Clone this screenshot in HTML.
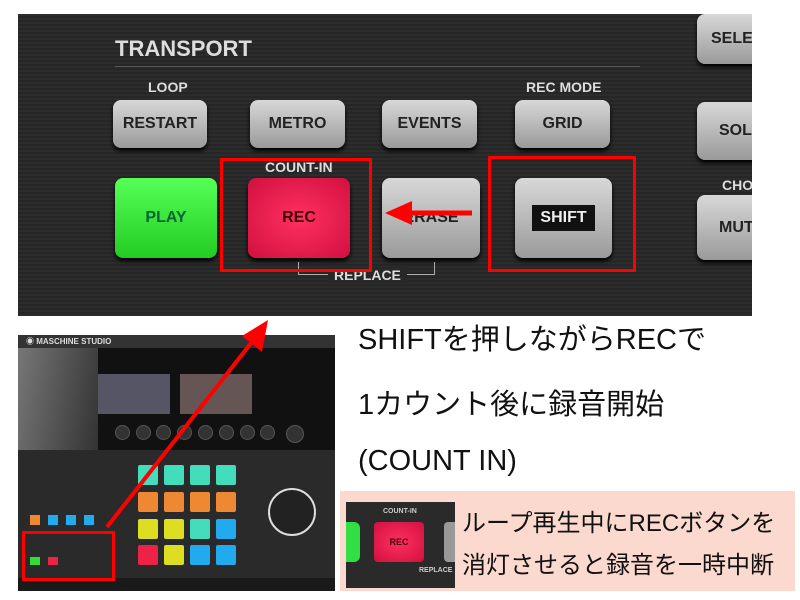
<!DOCTYPE html><html><head><meta charset="utf-8"><style>
body{margin:0;width:800px;height:600px;background:#fff;position:relative;overflow:hidden;font-family:"Liberation Sans","Noto Sans CJK JP",sans-serif}
.a{position:absolute}
.btn{position:absolute;border-radius:8px;background:linear-gradient(#d8d8d8,#9a9a9a);box-shadow:0 3px 4px #000;color:#222;font-weight:bold;font-size:16px;display:flex;align-items:center;justify-content:center;transform:scaleX(1)}
.lbl{position:absolute;color:#ddd;font-weight:bold;font-size:14px}
.t{position:absolute;color:#111;font-size:29px;white-space:nowrap}
.pad{position:absolute;width:20px;height:20px;border-radius:2px}
.k{position:absolute;width:13px;height:13px;border-radius:50%;background:#333;border:1px solid #555;top:425px}
</style></head><body>
<div class="a" style="left:18px;top:14px;width:734px;height:302px;overflow:hidden;background:repeating-linear-gradient(#2c2c2c 0 2px,#262626 2px 4px)">
<div class="lbl" style="left:97px;top:22px;font-size:22px">TRANSPORT</div>
<div class="a" style="left:97px;top:52px;width:525px;height:1px;background:#555"></div>
<div class="lbl" style="left:130px;top:65px">LOOP</div>
<div class="lbl" style="left:508px;top:65px">REC MODE</div>
<div class="lbl" style="left:247px;top:145px">COUNT-IN</div>
<div class="btn" style="left:95px;top:86px;width:94px;height:48px">RESTART</div>
<div class="btn" style="left:232px;top:86px;width:95px;height:48px">METRO</div>
<div class="btn" style="left:364px;top:86px;width:95px;height:48px">EVENTS</div>
<div class="btn" style="left:497px;top:86px;width:95px;height:48px">GRID</div>
<div class="btn" style="left:97px;top:164px;width:102px;height:80px;background:linear-gradient(#5f5,#2c2);color:#063">PLAY</div>
<div class="btn" style="left:230px;top:164px;width:102px;height:80px;background:radial-gradient(#ff3060,#d01040);color:#400">REC</div>
<div class="btn" style="left:364px;top:164px;width:98px;height:80px">ERASE</div>
<div class="btn" style="left:497px;top:164px;width:97px;height:80px"><span style="background:#111;color:#eee;padding:4px 8px">SHIFT</span></div>
<div class="a" style="left:280px;top:248px;width:135px;height:12px;border:1px solid #aaa;border-top:none"></div>
<div class="lbl" style="left:310px;top:253px;background:#282828;padding:0 6px">REPLACE</div>
<div class="btn" style="left:679px;top:0px;width:70px;height:50px;justify-content:flex-start;padding-left:14px">SELE</div>
<div class="btn" style="left:679px;top:88px;width:70px;height:58px;justify-content:flex-start;padding-left:22px">SOL</div>
<div class="lbl" style="left:704px;top:163px">CHO</div>
<div class="btn" style="left:679px;top:181px;width:70px;height:65px;justify-content:flex-start;padding-left:22px">MUT</div>
</div>
<div class="a" style="left:220px;top:158px;width:146px;height:108px;border:3px solid #f00"></div>
<div class="a" style="left:488px;top:156px;width:142px;height:110px;border:3px solid #f00"></div>
<!-- bottom-left photo -->
<div class="a" style="left:18px;top:335px;width:317px;height:256px;background:#1a1a1a"></div>
<div class="a" style="left:18px;top:335px;width:317px;height:13px;background:#333;color:#ddd;font-size:8px;font-weight:bold;padding-left:8px;box-sizing:border-box;line-height:13px">◉ MASCHINE STUDIO</div>
<div class="a" style="left:18px;top:348px;width:317px;height:102px;background:#111"></div>
<div class="a" style="left:18px;top:348px;width:80px;height:102px;background:linear-gradient(100deg,#777,#333)"></div>
<div class="a" style="left:98px;top:374px;width:72px;height:40px;background:#556"></div>
<div class="a" style="left:180px;top:374px;width:72px;height:40px;background:#655"></div>
<div class="k" style="left:115px"></div><div class="k" style="left:136px"></div><div class="k" style="left:156px"></div><div class="k" style="left:177px"></div><div class="k" style="left:198px"></div><div class="k" style="left:219px"></div><div class="k" style="left:240px"></div><div class="k" style="left:260px"></div><div class="k" style="left:286px;width:16px;height:16px"></div>
<div class="a" style="left:18px;top:450px;width:317px;height:128px;background:#2a2a2a"></div>
<div class="pad" style="left:138px;top:465px;background:#4db"></div><div class="pad" style="left:164px;top:465px;background:#4db"></div><div class="pad" style="left:190px;top:465px;background:#4db"></div><div class="pad" style="left:216px;top:465px;background:#4db"></div>
<div class="pad" style="left:138px;top:492px;background:#e83"></div><div class="pad" style="left:164px;top:492px;background:#e83"></div><div class="pad" style="left:190px;top:492px;background:#e83"></div><div class="pad" style="left:216px;top:492px;background:#e83"></div>
<div class="pad" style="left:138px;top:519px;background:#dd2"></div><div class="pad" style="left:164px;top:519px;background:#dd2"></div><div class="pad" style="left:190px;top:519px;background:#4db"></div><div class="pad" style="left:216px;top:519px;background:#2ae"></div>
<div class="pad" style="left:138px;top:545px;background:#e24"></div><div class="pad" style="left:164px;top:545px;background:#dd2"></div><div class="pad" style="left:190px;top:545px;background:#2ae"></div><div class="pad" style="left:216px;top:545px;background:#2ae"></div>
<div class="a" style="left:268px;top:488px;width:44px;height:44px;border-radius:50%;background:#222;border:2px solid #ddd"></div>
<div class="a" style="left:30px;top:515px;width:10px;height:10px;background:#e83"></div><div class="a" style="left:48px;top:515px;width:10px;height:10px;background:#2ae"></div><div class="a" style="left:66px;top:515px;width:10px;height:10px;background:#2ae"></div><div class="a" style="left:84px;top:515px;width:10px;height:10px;background:#2ae"></div>
<div class="a" style="left:30px;top:557px;width:10px;height:8px;background:#3d3"></div><div class="a" style="left:48px;top:557px;width:10px;height:8px;background:#e24"></div>
<div class="a" style="left:22px;top:531px;width:87px;height:44px;border:3px solid #f00"></div>
<svg class="a" style="left:0;top:0" width="800" height="600">
<line x1="107" y1="527" x2="255" y2="338" stroke="#f00" stroke-width="4"/>
<polygon points="268,320 242,336 262,352" fill="#f00"/>
<line x1="472" y1="213" x2="410" y2="213" stroke="#f00" stroke-width="5"/>
<polygon points="385,213 412,201 412,225" fill="#f00"/>
</svg>
<div class="t" style="left:358px;top:316px">SHIFTを押しながらRECで</div>
<div class="t" style="left:358px;top:381px">1カウント後に録音開始</div>
<div class="t" style="left:358px;top:445px">(COUNT IN)</div>
<div class="a" style="left:340px;top:491px;width:455px;height:100px;background:#fbd9cf"></div>
<div class="a" style="left:346px;top:502px;width:109px;height:86px;background:#2a2a2a"></div>
<div class="a" style="left:346px;top:522px;width:14px;height:40px;background:#3d4;border-radius:0 6px 6px 0"></div>
<div class="a" style="left:374px;top:522px;width:50px;height:40px;background:radial-gradient(#ff3060,#d01040);border-radius:4px;color:#400;font-size:9px;font-weight:bold;display:flex;align-items:center;justify-content:center">REC</div>
<div class="a" style="left:444px;top:522px;width:11px;height:40px;background:#999;border-radius:4px 0 0 4px"></div>
<div class="a" style="left:383px;top:508px;color:#ccc;font-size:7px;font-weight:bold">COUNT-IN</div>
<div class="a" style="left:419px;top:567px;color:#ccc;font-size:7px;font-weight:bold">REPLACE</div>
<div class="t" style="left:462px;top:503px;font-size:24px">ループ再生中にRECボタンを</div>
<div class="t" style="left:462px;top:545px;font-size:24px">消灯させると録音を一時中断</div>
</body></html>
